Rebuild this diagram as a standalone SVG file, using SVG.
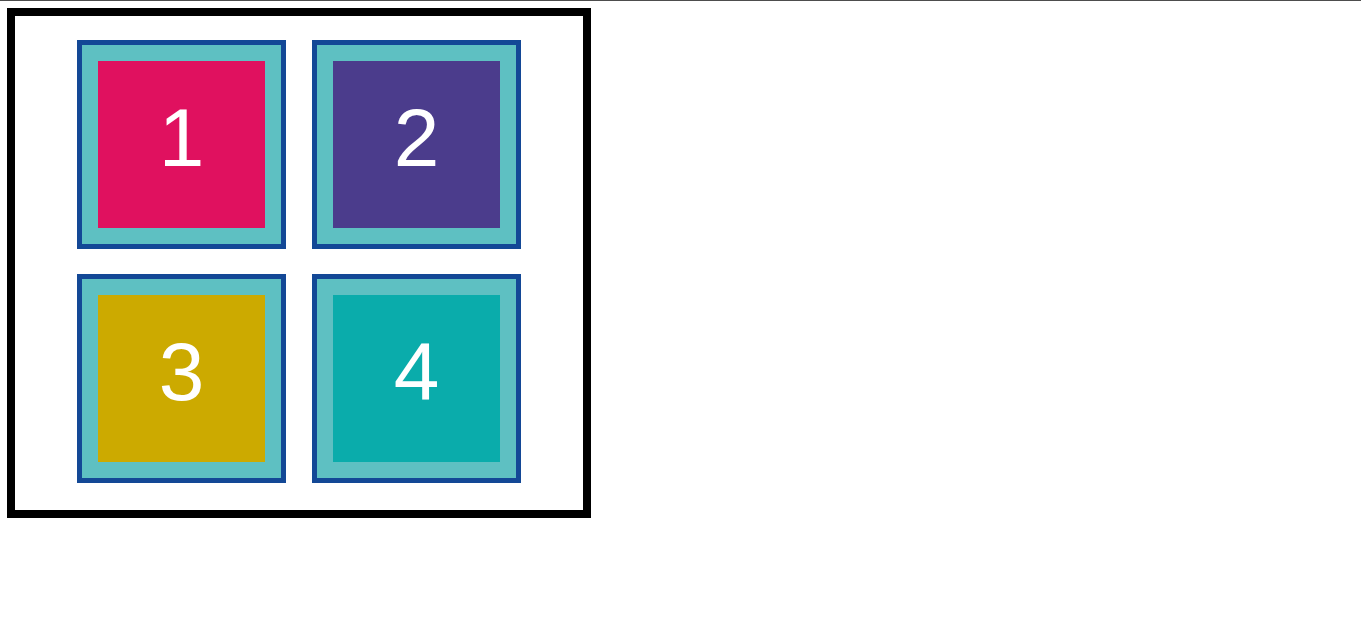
<svg xmlns="http://www.w3.org/2000/svg" width="1361" height="623" viewBox="0 0 1361 623">
<style>
.frame{fill:#5EC0C2;stroke:#134896;stroke-width:5}
.lbl{font-family:"Liberation Sans",Arial,sans-serif;font-size:82px;fill:#ffffff;text-anchor:middle}
</style>
<rect x="0" y="0" width="1361" height="623" fill="#ffffff"/>
<line x1="0" y1="0.5" x2="1361" y2="0.5" stroke="#4d4d4d" stroke-width="1"/>
<rect x="11" y="12" width="576" height="502" fill="#ffffff" stroke="#000000" stroke-width="8"/>
<g id="node1">
<rect class="frame" x="79.5" y="42.5" width="204" height="204"/>
<rect x="98" y="61" width="167" height="167" fill="#E0115F"/>
<text class="lbl" x="181.5" y="166">1</text>
</g>
<g id="node2">
<rect class="frame" x="314.5" y="42.5" width="204" height="204"/>
<rect x="333" y="61" width="167" height="167" fill="#4B3C8C"/>
<text class="lbl" x="416.5" y="166">2</text>
</g>
<g id="node3">
<rect class="frame" x="79.5" y="276.5" width="204" height="204"/>
<rect x="98" y="295" width="167" height="167" fill="#CCAA00"/>
<text class="lbl" x="181.5" y="400">3</text>
</g>
<g id="node4">
<rect class="frame" x="314.5" y="276.5" width="204" height="204"/>
<rect x="333" y="295" width="167" height="167" fill="#0AACAB"/>
<text class="lbl" x="416.5" y="400">4</text>
</g>
<g id="connectors"></g>
</svg>
